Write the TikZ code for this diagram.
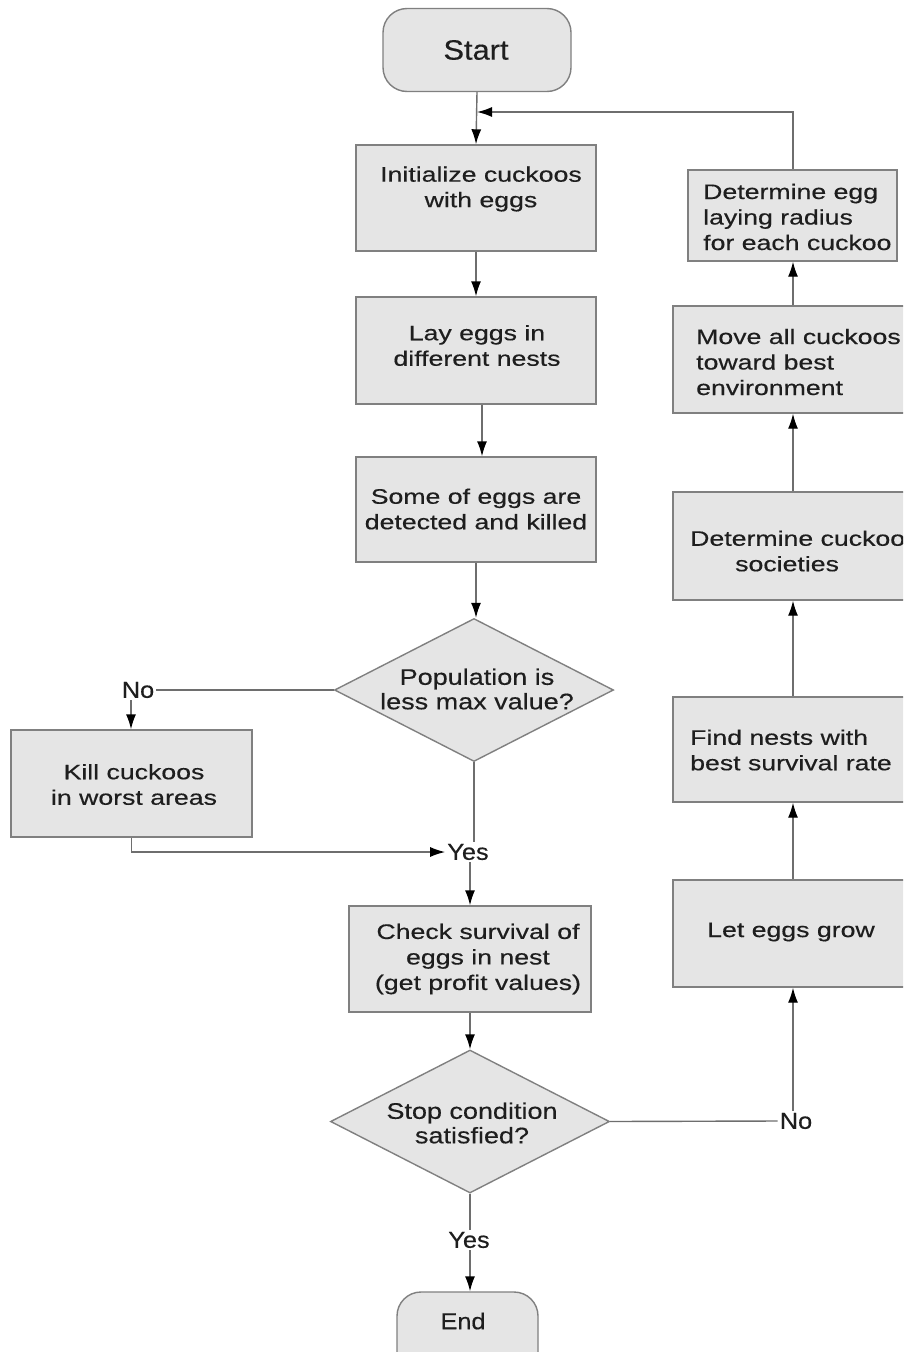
\documentclass[tikz,border=0pt]{standalone}
\usepackage{fontspec}
\setmainfont{Liberation Sans}
\newfontfamily\bodyfont[FakeStretch=1.27,FakeBold=0.4]{Liberation Sans}
\newfontfamily\diafont[FakeStretch=1.2,FakeBold=0.4]{Liberation Sans}
\newfontfamily\lblfont[FakeStretch=1.1,FakeBold=0.4]{Liberation Sans}
\usetikzlibrary{shapes.geometric,arrows.meta}
\definecolor{boxfill}{RGB}{229,229,229}
\definecolor{boxline}{RGB}{128,128,128}
\definecolor{conn}{RGB}{110,110,110}
\definecolor{txtc}{RGB}{30,30,30}
\tikzset{
  box/.style={draw=boxline, fill=boxfill, line width=1.4pt, inner sep=0pt},
  term/.style={box, rounded corners=24pt},
  dia/.style={draw=boxline, fill=boxfill, line width=1.4pt, diamond, inner sep=0pt},
  txt/.style={text=txtc, inner sep=0pt, align=center, font=\bodyfont\fontsize{21}{25.5}\selectfont},
  dtxt/.style={text=txtc, inner sep=0pt, align=center, font=\diafont\fontsize{22.5}{24.5}\selectfont},
  lbl/.style={text=txtc, inner sep=2pt, font=\lblfont\fontsize{23}{25}\selectfont},
  conn/.style={draw=conn, line width=1.4pt},
  arr/.style={conn, arrows={-{Latex[length=15pt,width=10pt,color=black]}}}
}
\begin{document}
\begin{tikzpicture}[x=1pt,y=-1pt]
\useasboundingbox (0,0) rectangle (903,1352);
\fill[white] (0,0) rectangle (903,1352);
\clip (0,0) rectangle (903,1352);
% main column
\node[term, minimum width=188, minimum height=83] (start) at (477,50) {};
\node[text=txtc, inner sep=0pt, font=\lblfont\fontsize{28}{30}\selectfont] (startt) at (476,50) {Start};
\node[box, minimum width=240, minimum height=106] (init) at (476,198) {};
\node[txt] (initt) at (481,189) {Initialize cuckoos\\with eggs};
\node[box, minimum width=240, minimum height=107] (lay) at (476,350.5) {};
\node[txt] (layt) at (477,345.5) {Lay eggs in\\different nests};
\node[box, minimum width=240, minimum height=105] (some) at (476,509.5) {};
\node[txt] (somet) at (476,509) {Some of eggs are\\detected and killed};
\node[dia, minimum width=279, minimum height=143] (d1) at (474,690) {};
\node[dtxt] (d1t) at (477,689) {Population is\\less max value?};
\node[lbl] (no1) at (138,690) {No};
\node[box, minimum width=241, minimum height=107] (kill) at (131.5,783.5) {};
\node[txt] (killt) at (134,784.5) {Kill cuckoos\\in worst areas};
\node[lbl] (yes1) at (468,852) {Yes};
\node[box, minimum width=242, minimum height=106] (check) at (470,959) {};
\node[txt] (checkt) at (478,959) {Check survival of\\eggs in nest\\(get profit values)};
\node[dia, minimum width=279, minimum height=143] (d2) at (470,1121.5) {};
\node[dtxt] (d2t) at (472,1123) {Stop condition\\satisfied?};
\node[lbl] (yes2) at (469,1240) {Yes};
\node[term, minimum width=141, minimum height=90] (end) at (467.5,1337) {};
\node[text=txtc, inner sep=0pt, font=\lblfont\fontsize{23}{25}\selectfont] (endt) at (463,1321) {End};
\node[lbl] (no2) at (796,1121) {No};
% right column
\coordinate (rx) at (793,0);
\coordinate (join) at (477,112);
\node[box, minimum width=270, minimum height=107] (grow) at (808,933.5) {};
\node[txt] (growt) at (791,932) {Let eggs grow};
\node[box, minimum width=270, minimum height=105] (find) at (808,749.5) {};
\node[txt, align=left, anchor=west] (findt) at (690,750) {Find nests with\\best survival rate};
\node[box, minimum width=270, minimum height=108] (soc) at (808,546) {};
\node[txt, align=left, anchor=west] (soct) at (690,551) {Determine cuckoos\\\hspace*{45pt}societies};
\node[box, minimum width=270, minimum height=107] (move) at (808,359.5) {};
\node[txt, align=left, anchor=west] (movet) at (696,362) {Move all cuckoos\\toward best\\environment};
\node[box, minimum width=209, minimum height=91] (detegg) at (792.5,215.5) {};
\node[txt, align=left, anchor=west] (deteggt) at (703,217) {Determine egg\\laying radius\\for each cuckoo};
% connectors
\draw[arr] (start.south) -- (init.north);
\draw[arr] (detegg.north -| rx) |- (join);
\draw[arr] (init.south) -- (lay.north);
\draw[arr] ([xshift=6pt]lay.south) -- ([xshift=6pt]some.north);
\draw[arr] (some.south) -- (some.south |- d1.north);
\draw[conn] (d1.west) -- (d1.west -| no1.east);
\draw[arr] ([xshift=-7pt]no1.south) -- ([xshift=-0.5pt]kill.north);
\draw[arr] (kill.south) |- (yes1.west);
\draw[conn] (d1.south) -- ([xshift=6pt]yes1.north);
\draw[arr] ([xshift=2pt]yes1.south) -- (check.north -| d2.north);
\draw[arr] (check.south -| d2.north) -- (d2.north);
\draw[conn] (d2.east) -- (no2.west);
\draw[arr] (no2.north -| rx) -- (grow.south -| rx);
\draw[arr] (grow.north -| rx) -- (find.south -| rx);
\draw[arr] (find.north -| rx) -- (soc.south -| rx);
\draw[arr] (soc.north -| rx) -- (move.south -| rx);
\draw[arr] (move.north -| rx) -- (detegg.south -| rx);
\draw[conn] (d2.south) -- (yes2.north -| d2.south);
\draw[arr] (yes2.south -| d2.south) -- (end.north -| d2.south);
\end{tikzpicture}
\end{document}
